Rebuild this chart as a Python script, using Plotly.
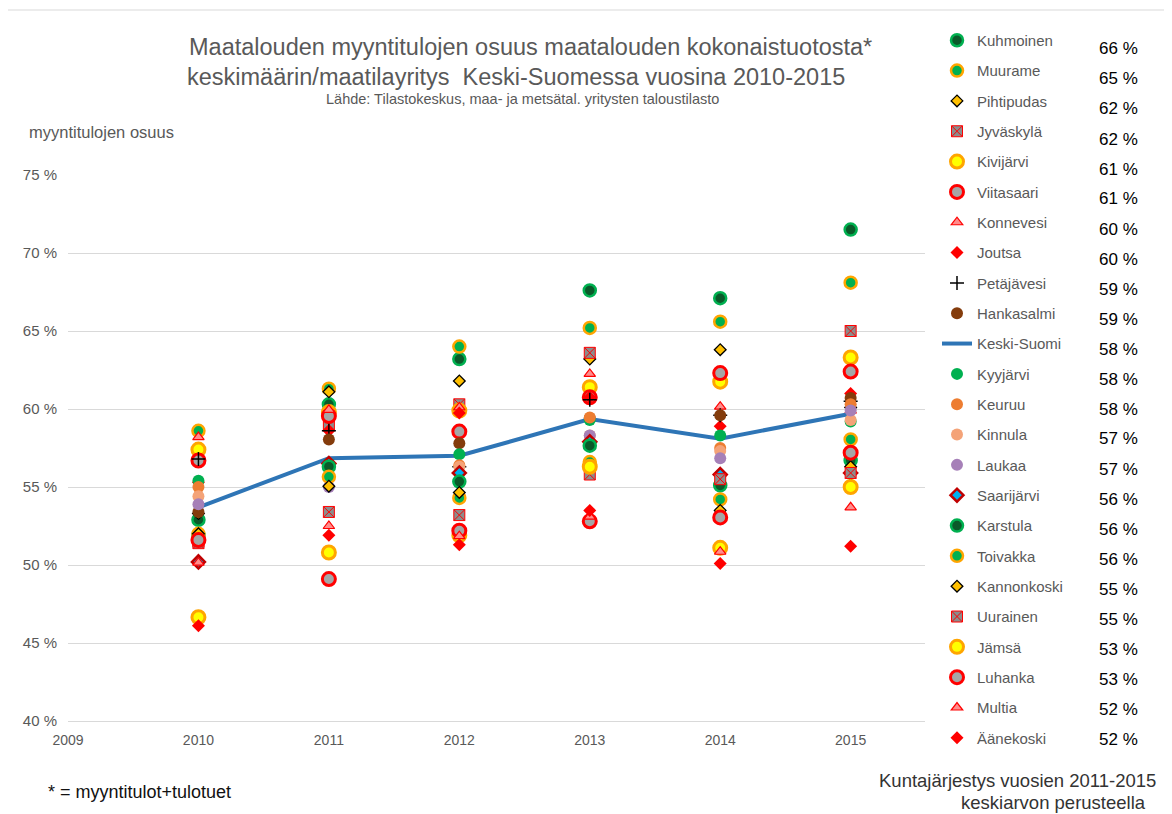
import plotly.graph_objects as go

years = [2010, 2011, 2012, 2013, 2014, 2015]

kuhmoinen = [52.9, 60.3, 63.2, 67.6, 67.1, 71.5]
muurame = [58.6, 61.3, 64.0, 65.2, 65.6, 68.1]
pihtipudas = [53.3, 61.1, 61.8, 63.2, 63.8, 60.1]
jyvaskyla = [51.5, 59.0, 60.3, 63.6, 62.0, 65.0]
kivijarvi = [57.4, 59.8, 59.9, 61.4, 61.75, 63.3]
viitasaari = [56.7, 59.55, 58.55, 60.75, 62.3, 62.4]
konnevesi = [58.2, 59.95, 60.1, 62.25, 60.15, 59.9]
joutsa = [55.3, 58.6, 59.75, 60.75, 58.9, 61.0]
petajavesi = [56.8, 58.6, 56.3, 60.6, 59.6, 60.5]
hankasalmi = [53.4, 58.05, 57.8, 59.4, 59.6, 60.7]
keski_suomi = [53.7, 56.85, 57.0, 59.35, 58.1, 59.7]
kyyjarvi = [55.4, 56.5, 57.1, 59.3, 58.3, 59.2]
keuruu = [55.0, 56.4, 56.4, 59.45, 57.5, 60.3]
kinnula = [54.4, 55.6, 56.3, 58.3, 57.3, 59.3]
laukaa = [53.9, 55.0, 55.3, 58.3, 56.85, 59.9]
saarijarvi = [50.2, 56.5, 55.9, 57.9, 55.8, 55.9]
karstula = [51.9, 56.3, 55.35, 57.65, 55.1, 56.7]
toivakka = [52.0, 55.65, 54.3, 56.6, 54.2, 58.05]
kannonkoski = [52.0, 55.05, 54.65, 56.4, 53.5, 56.3]
uurainen = [51.4, 53.4, 53.2, 55.8, 55.5, 55.9]
jamsa = [46.65, 50.8, 51.9, 56.3, 51.1, 55.0]
luhanka = [51.6, 49.1, 52.2, 52.8, 53.05, 57.2]
multia = [50.15, 52.5, 51.85, 53.1, 50.85, 53.7]
aanekoski = [46.1, 51.9, 51.3, 53.5, 50.1, 51.2]

names = ["Kuhmoinen", "Muurame", "Pihtipudas", "Jyväskylä", "Kivijärvi", "Viitasaari",
         "Konnevesi", "Joutsa", "Petäjävesi", "Hankasalmi", "Keski-Suomi", "Kyyjärvi",
         "Keuruu", "Kinnula", "Laukaa", "Saarijärvi", "Karstula", "Toivakka",
         "Kannonkoski", "Uurainen", "Jämsä", "Luhanka", "Multia", "Äänekoski"]
series = [kuhmoinen, muurame, pihtipudas, jyvaskyla, kivijarvi, viitasaari,
          konnevesi, joutsa, petajavesi, hankasalmi, keski_suomi, kyyjarvi,
          keuruu, kinnula, laukaa, saarijarvi, karstula, toivakka,
          kannonkoski, uurainen, jamsa, luhanka, multia, aanekoski]
averages = ["66 %", "65 %", "62 %", "62 %", "61 %", "61 %", "60 %", "60 %", "59 %", "59 %",
            "58 %", "58 %", "58 %", "57 %", "57 %", "56 %", "56 %", "56 %", "55 %", "55 %",
            "53 %", "53 %", "52 %", "52 %"]

# styles
GREEN = "#00B050"
DKGREEN = "#0B5A2A"
ORANGE = "#FFA500"
st_kuh = dict(symbol="circle", size=12, color=DKGREEN, line=dict(color=GREEN, width=2.5))
st_muu = dict(symbol="circle", size=12, color=GREEN, line=dict(color=ORANGE, width=2.5))
st_pih = dict(symbol="diamond", size=9, color="#FFC000", line=dict(color="black", width=1.3))
st_jyv = dict(symbol="square-x", size=11, color="#8C8C8C", line=dict(color="#FF0000", width=1))
st_kiv = dict(symbol="circle", size=13, color="#FFFF00", line=dict(color=ORANGE, width=3))
st_vii = dict(symbol="circle", size=13, color="#A6A6A6", line=dict(color="#FF0000", width=3))
st_kon = dict(symbol="triangle-up", size=10, color="#FF8C8C", line=dict(color="#FF0000", width=1.2))
st_jou = dict(symbol="diamond", size=10, color="#FF0000", line=dict(color="#FF0000", width=0))
st_pet = dict(symbol="cross-thin", size=10, color="black", line=dict(color="black", width=1.5))
st_han = dict(symbol="circle", size=12, color="#843C0C", line=dict(width=0))
st_kyy = dict(symbol="circle", size=12, color=GREEN, line=dict(width=0))
st_keu = dict(symbol="circle", size=12, color="#ED7D31", line=dict(width=0))
st_kin = dict(symbol="circle", size=12, color="#F4A378", line=dict(width=0))
st_lau = dict(symbol="circle", size=12, color="#A680B8", line=dict(width=0))
st_saa = dict(symbol="diamond", size=10, color="#00B0F0", line=dict(color="#C00000", width=2.5))

styles = [st_kuh, st_muu, st_pih, st_jyv, st_kiv, st_vii, st_kon, st_jou, st_pet, st_han,
          None, st_kyy, st_keu, st_kin, st_lau, st_saa, st_kuh, st_muu, st_pih, st_jyv,
          st_kiv, st_vii, st_kon, st_jou]

fig = go.Figure()
for i, (nm, vals, st) in enumerate(zip(names, series, styles)):
    if st is None:
        fig.add_trace(go.Scatter(x=years, y=vals, name=nm, mode="lines",
                                 line=dict(color="#2E75B6", width=4),
                                 legendgroup=nm, legendrank=i + 1))
    else:
        fig.add_trace(go.Scatter(x=years, y=vals, name=nm, mode="markers",
                                 marker=dict(st), legendgroup=nm, legendrank=i + 1))

# page body has an 8px default margin, so work in reference pixels minus 8
OFF = 8
FW, FH = 1172 - OFF, 814 - OFF
L, R, T, B = 68 - OFF, 925 - OFF, 175 - OFF, 721 - OFF
W, H = R - L, B - T


def px(x):
    return (x - OFF - L) / W


def py(y):
    return (B - (y - OFF)) / H


TXT = "#595959"
ann = [
    dict(text="Maatalouden myyntitulojen osuus maatalouden kokonaistuotosta*", x=px(530), y=py(47),
         font=dict(size=23.5, color=TXT)),
    dict(text="keskimäärin/maatilayritys  Keski-Suomessa vuosina 2010-2015", x=px(516), y=py(77),
         font=dict(size=23.5, color=TXT)),
    dict(text="Lähde: Tilastokeskus, maa- ja metsätal. yritysten taloustilasto", x=px(522), y=py(99),
         font=dict(size=14.5, color=TXT)),
    dict(text="myyntitulojen osuus", x=px(27), y=py(132), xanchor="left",
         font=dict(size=16.5, color=TXT)),
    dict(text="* = myyntitulot+tulotuet", x=px(46), y=py(792), xanchor="left",
         font=dict(size=18, color="#111111")),
    dict(text="Kuntajärjestys vuosien 2011-2015", x=px(1158), y=py(780), xanchor="right",
         font=dict(size=18.5, color="#333333")),
    dict(text="keskiarvon perusteella", x=px(1148), y=py(802), xanchor="right",
         font=dict(size=18.5, color="#333333")),
]
for i, a in enumerate(averages):
    ann.append(dict(text=a, x=px(1140), y=py(49 + 30 * i), xanchor="right",
                    font=dict(size=17, color="black")))
for a in ann:
    a.setdefault("xanchor", "center")
    a.update(xref="paper", yref="paper", yanchor="middle", showarrow=False)

fig.update_layout(
    width=FW, height=FH,
    margin=dict(l=L, r=FW - R, t=T, b=FH - B),
    paper_bgcolor="white", plot_bgcolor="white",
    font=dict(family="Liberation Sans, Arial, sans-serif", color=TXT),
    showlegend=True,
    legend=dict(x=px(937), y=py(24), xanchor="left", yanchor="top",
                font=dict(size=15, color=TXT), tracegroupgap=7.83, maxheight=800,
                bgcolor="rgba(0,0,0,0)", itemwidth=30),
    annotations=ann,
    xaxis=dict(range=[2009, 2015.57], tickvals=[2009, 2010, 2011, 2012, 2013, 2014, 2015],
               showgrid=False, showline=True, linecolor="#D9D9D9", linewidth=1,
               ticks="", tickfont=dict(size=14, color=TXT), zeroline=False,
               ticklabelstandoff=6),
    yaxis=dict(range=[40, 75], dtick=5, ticksuffix=" %", showgrid=True, gridcolor="#D9D9D9",
               gridwidth=1, showline=False, zeroline=False, ticks="",
               tickfont=dict(size=15, color=TXT), ticklabelstandoff=10),
    shapes=[
        dict(type="line", xref="paper", yref="paper", x0=px(5), x1=px(1172), y0=py(10), y1=py(10),
             line=dict(color="#D9D9D9", width=1)),
        dict(type="line", xref="paper", yref="paper", x0=px(5), x1=px(5), y0=py(10), y1=py(814),
             line=dict(color="#D9D9D9", width=1)),
    ],
)

fig.write_html("out.html")
